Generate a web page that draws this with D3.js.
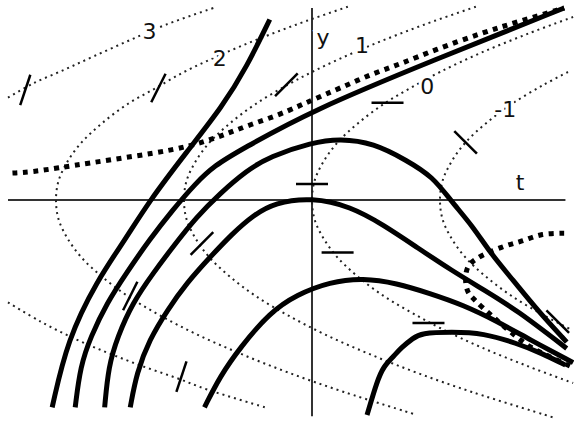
<!DOCTYPE html>
<html>
<head>
<meta charset="utf-8">
<script src="https://cdn.jsdelivr.net/npm/d3@7"></script>
<style>
  body { margin: 0; background: #fff; }
  svg { display: block; }
  text { font-family: "DejaVu Sans", sans-serif; }
</style>
</head>
<body>
<svg id="chart" width="574" height="421"></svg>
<script>
// isoclines of y' = y^2 - t, points as [t, y]
const iso3Upper = [[-2.375,0.80],[-2.18,0.91],[-1.93,1.02],[-1.70,1.125],[-1.42,1.25],[-1.14,1.37],[-0.77,1.5]];
const iso3Lower = [[-2.375,-0.80],[-2.12,-0.95],[-1.84,-1.09],[-1.58,-1.20],[-1.32,-1.30],[-1.06,-1.39],[-0.82,-1.48],[-0.35,-1.625]];
const iso2 = [[0.28,1.51],[-0.04,1.4],[-0.31,1.3],[-0.56,1.2],[-0.79,1.1],[-1.0,1.0],[-1.22,0.875],[-1.44,0.75],[-1.64,0.6],[-1.80,0.45],[-1.91,0.3],[-1.98,0.15],[-2.0,0],
              [-1.98,-0.15],[-1.91,-0.3],[-1.80,-0.45],[-1.64,-0.6],[-1.44,-0.75],[-1.19,-0.9],[-0.90,-1.05],[-0.56,-1.2],[-0.18,-1.35],[0.25,-1.5],[0.79,-1.67]];
const iso1 = [[1.28,1.51],[0.96,1.4],[0.69,1.3],[0.44,1.2],[0.21,1.1],[0,1.0],[-0.19,0.9],[-0.44,0.75],[-0.64,0.6],[-0.80,0.45],[-0.91,0.3],[-0.98,0.15],[-1.0,0],
              [-0.98,-0.15],[-0.91,-0.3],[-0.80,-0.45],[-0.64,-0.6],[-0.44,-0.75],[-0.19,-0.9],[0.10,-1.05],[0.44,-1.2],[0.82,-1.35],[1.25,-1.5],[1.89,-1.7]];
const iso0 = [[2.04,1.43],[1.69,1.3],[1.32,1.15],[1.0,1.0],[0.77,0.875],[0.56,0.75],[0.36,0.6],[0.20,0.45],[0.09,0.3],[0.02,0.15],[0,0],
              [0.02,-0.15],[0.09,-0.3],[0.20,-0.45],[0.36,-0.6],[0.56,-0.75],[0.77,-0.875],[1.0,-1.0],[1.32,-1.15],[1.69,-1.3],[2.04,-1.43]];
const isoM1 = [[2.0,1.0],[1.81,0.9],[1.56,0.75],[1.36,0.6],[1.20,0.45],[1.09,0.3],[1.02,0.15],[1.0,0],
               [1.02,-0.15],[1.09,-0.3],[1.20,-0.45],[1.36,-0.6],[1.56,-0.75],[1.81,-0.9],[2.02,-1.01]];

// isocline labels [text, t, y]
const isoLabels = [["3",-1.27,1.32],["2",-0.72,1.11],["1",0.39,1.21],["0",0.90,0.89],["-1",1.51,0.71]];

// slope marks [t, y, slope]
const marks = [[-2.24,0.86,3],[-1.02,-1.38,3],[-1.20,0.875,2],[-1.42,-0.75,2],[-0.20,0.90,1],[-0.86,-0.34,1],
               [0.59,0.76,0],[0,0.125,0],[0.20,-0.41,0],[0.91,-0.96,0],[1.20,0.45,-1],[1.92,-0.95,-1]];

// solution curves [t, y]
const solA = [[-2.03,-1.62],[-1.91,-1.09],[-1.68,-0.63],[-1.46,-0.31],[-1.28,-0.02],[-0.98,0.375],[-0.70,0.73],[-0.51,1.04],[-0.33,1.41]];
const solB = [[-1.85,-1.62],[-1.81,-1.30],[-1.73,-1.07],[-1.60,-0.80],[-1.45,-0.57],[-1.27,-0.31],[-1.09,-0.08],[-0.91,0.13],[-0.76,0.27],[-0.56,0.39],[0,0.70],[0.945,1.09],[1.97,1.5]];
const solC = [[-1.62,-1.62],[-1.59,-1.30],[-1.52,-1.07],[-1.40,-0.80],[-1.24,-0.57],[-1.09,-0.37],[-0.90,-0.13],[-0.72,0.05],[-0.51,0.23],[-0.33,0.34],[0,0.45],[0.22,0.48],
              [0.48,0.445],[0.74,0.31],[0.945,0.18],[1.08,0],[1.26,-0.21],[1.39,-0.41],[1.57,-0.625],[1.76,-0.86],[1.99,-1.11]];
const solD = [[-1.42,-1.62],[-1.37,-1.35],[-1.27,-1.09],[-1.13,-0.86],[-0.98,-0.65],[-0.80,-0.45],[-0.62,-0.26],[-0.46,-0.12],[-0.29,-0.02],[0,0.02],[0.30,-0.05],
              [0.56,-0.195],[0.82,-0.37],[1.09,-0.55],[1.34,-0.70],[1.60,-0.86],[1.99,-1.16]];
const solE = [[-0.84,-1.62],[-0.72,-1.38],[-0.56,-1.15],[-0.33,-0.88],[-0.12,-0.74],[0.14,-0.64],[0.40,-0.61],[0.66,-0.65],[0.92,-0.73],[1.18,-0.82],[1.45,-0.95],[1.70,-1.09],[2.04,-1.27]];
const solF = [[0.43,-1.68],[0.51,-1.41],[0.56,-1.30],[0.63,-1.23],[0.70,-1.15],[0.79,-1.08],[0.85,-1.04],[1.09,-1.03],[1.34,-1.04],[1.60,-1.12],[1.79,-1.195],[1.98,-1.29]];

// the two heavy dotted curves
const sepUpper = [[-2.34,0.21],[-2.18,0.22],[-1.99,0.25],[-1.73,0.29],[-1.40,0.34],[-1.09,0.39],[-0.85,0.45],[-0.66,0.52],[-0.48,0.59],[-0.27,0.66],[-0.09,0.74],[0,0.78],[0.22,0.875],
                  [0.48,0.99],[0.71,1.07],[0.95,1.17],[1.34,1.31],[1.60,1.39],[1.97,1.5]];
const sepLower = [[1.97,-0.26],[1.80,-0.27],[1.64,-0.32],[1.48,-0.37],[1.30,-0.45],[1.22,-0.52],[1.20,-0.625],[1.22,-0.72],[1.27,-0.78],[1.40,-0.90],[1.55,-1.03],[1.71,-1.15],[1.87,-1.23],[2.02,-1.30]];

// axes extents and axis names
const tAxis = [-2.375, 1.98];
const yAxis = [1.5, -1.69];
const axisNames = [["y",0.086,1.21],["t",1.625,0.08]];

const W = 574, H = 421;
const svg = d3.select("#chart");

const x = d3.scaleLinear().domain([-2.4375, 2.046875]).range([0, W]);
const y = d3.scaleLinear().domain([1.5625, -1.7265625]).range([0, H]);

const line = d3.line()
    .x(d => x(d[0]))
    .y(d => y(d[1]))
    .curve(d3.curveCatmullRom);

// smoother generator for the hand-read solution curves
const smooth = d3.line()
    .x(d => x(d[0]))
    .y(d => y(d[1]))
    .curve(d3.curveBasis);

// AXES
svg.append("line")
    .attr("x1", x(tAxis[0])).attr("x2", x(tAxis[1]))
    .attr("y1", y(0)).attr("y2", y(0))
    .attr("stroke", "#333").attr("stroke-width", 2);
svg.append("line")
    .attr("x1", x(0)).attr("x2", x(0))
    .attr("y1", y(yAxis[0])).attr("y2", y(yAxis[1]))
    .attr("stroke", "#333").attr("stroke-width", 2);

// ISOCLINES (thin dotted)
svg.selectAll(".iso")
    .data([iso3Upper, iso3Lower, iso2, iso1, iso0, isoM1])
    .join("path")
    .attr("class", "iso")
    .attr("fill", "none")
    .attr("stroke", "#222")
    .attr("stroke-width", 2)
    .attr("stroke-dasharray", "2,4")
    .attr("d", line);

// SLOPE MARKS
const half = 16 / (x(1) - x(0));
svg.selectAll(".mark")
    .data(marks)
    .join("line")
    .attr("class", "mark")
    .attr("stroke", "#000")
    .attr("stroke-width", 2.5)
    .each(function(d) {
        const dt = half / Math.sqrt(1 + d[2] * d[2]);
        d3.select(this)
            .attr("x1", x(d[0] - dt)).attr("y1", y(d[1] - d[2] * dt))
            .attr("x2", x(d[0] + dt)).attr("y2", y(d[1] + d[2] * dt));
    });

// LABELS
svg.selectAll(".lab")
    .data(isoLabels.concat(axisNames))
    .join("text")
    .attr("class", "lab")
    .attr("x", d => x(d[1]))
    .attr("y", d => y(d[2]))
    .attr("dy", (d, i) => i < isoLabels.length ? "0.36em" : 0)
    .attr("text-anchor", "middle")
    .attr("font-size", 22)
    .attr("fill", "#111")
    .attr("stroke", "#fff")
    .attr("stroke-width", 6)
    .attr("paint-order", "stroke")
    .text(d => d[0]);

// SOLUTIONS
svg.selectAll(".sol")
    .data([solA, solB, solC, solD, solE, solF])
    .join("path")
    .attr("class", "sol")
    .attr("fill", "none")
    .attr("stroke", "#000")
    .attr("stroke-width", 5)
    .attr("d", smooth);

// HEAVY DOTTED (lower one keeps its corner)
svg.selectAll(".sep")
    .data([sepUpper, sepLower])
    .join("path")
    .attr("class", "sep")
    .attr("fill", "none")
    .attr("stroke", "#000")
    .attr("stroke-width", 5)
    .attr("stroke-dasharray", "5,5.5")
    .attr("d", (d, i) => i === 0 ? smooth(d) : line(d));
</script>
</body>
</html>
